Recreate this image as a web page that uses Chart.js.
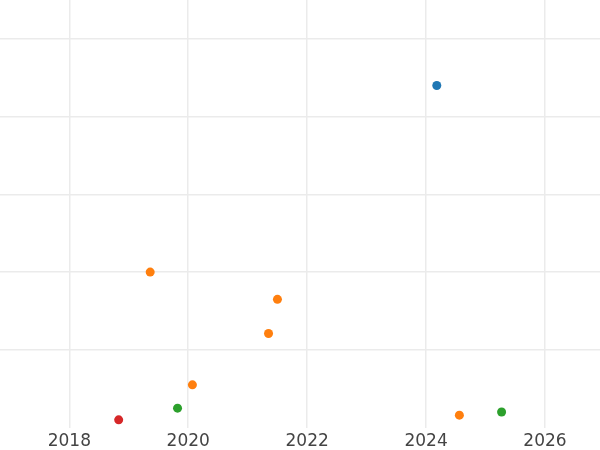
<!DOCTYPE html>
<html lang="en">
<head>
    <meta charset="UTF-8">
    <title>Scatter</title>
    <script src="https://cdn.jsdelivr.net/npm/chart.js@4.4.0/dist/chart.umd.min.js"></script>
    <style>
        html, body {
            margin: 0;
            padding: 0;
            background: #fff;
        }

        #container {
            width: 600px;
            height: 450px;
        }
    </style>
</head>
<body>

<div id="container">
    <canvas id="chart"></canvas>
</div>

<script>
    // tick positions
    const xTicks = [2018, 2020, 2022, 2024, 2026];
    const yTicks = [1, 2, 3, 4, 5];

    // series, one per colour
    const blueX = [2024.18];
    const blueY = [4.40];
    const orangeX = [2019.36, 2021.50, 2021.35, 2020.07, 2024.56];
    const orangeY = [2.00, 1.65, 1.21, 0.55, 0.16];
    const greenX = [2019.82, 2025.27];
    const greenY = [0.25, 0.20];
    const redX = [2018.83];
    const redY = [0.10];

    function toPoints(xs, ys) {
        return xs.map((x, i) => ({ x: x, y: ys[i] }));
    }

    function series(xs, ys, color) {
        return {
            data: toPoints(xs, ys),
            backgroundColor: color,
            borderWidth: 0,
            pointRadius: 4.5
        };
    }

    const gridColor = '#ebebeb';

    const ctx = document.getElementById('chart').getContext('2d');
    const chart = new Chart(ctx, {
        type: 'scatter',
        data: {
            datasets: [
                series(blueX, blueY, '#1f77b4'),
                series(orangeX, orangeY, '#ff7f0e'),
                series(greenX, greenY, '#2ca02c'),
                series(redX, redY, '#d62728')
            ]
        },
        options: {
            responsive: true,
            maintainAspectRatio: false,
            animation: false,
            // labels sit low under the plot, so pull the bottom edge down a bit
            layout: { padding: { top: 0, left: 0, right: 0, bottom: -5 }, autoPadding: false },
            plugins: {
                legend: { display: false },
                tooltip: { enabled: false }
            },
            scales: {
                x: {
                    type: 'linear',
                    min: 2016.834,
                    max: 2026.925,
                    afterBuildTicks: axis => { axis.ticks = xTicks.map(v => ({ value: v })); },
                    border: { display: false },
                    grid: { color: gridColor, lineWidth: 1.5, drawTicks: false },
                    ticks: {
                        padding: 3.5,
                        color: '#444',
                        font: { family: 'DejaVu Sans', size: 17 },
                        maxRotation: 0,
                        callback: v => String(v)
                    }
                },
                y: {
                    type: 'linear',
                    min: 0,
                    max: 5.5,
                    afterBuildTicks: axis => { axis.ticks = yTicks.map(v => ({ value: v })); },
                    border: { display: false },
                    grid: { color: gridColor, lineWidth: 1.5, drawTicks: false },
                    ticks: { display: false, padding: 0 }
                }
            }
        }
    });
</script>

</body>
</html>
